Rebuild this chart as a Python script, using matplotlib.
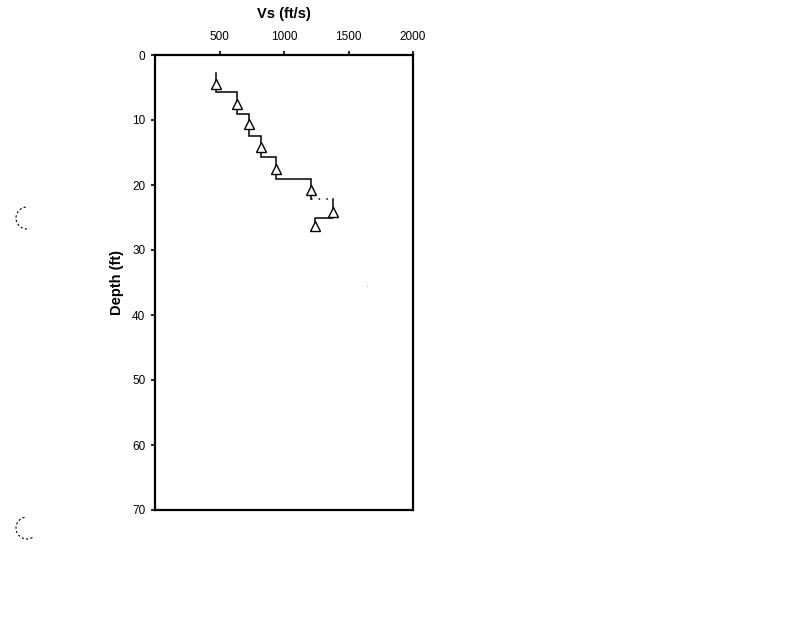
import matplotlib
matplotlib.use("Agg")
import matplotlib.pyplot as plt
from matplotlib.patches import Arc

plt.rcParams['font.family'] = ['Liberation Sans', 'DejaVu Sans']

# Layer profile (step)
layer_top = [2.7, 5.7, 9.1, 12.4, 15.7, 19.0, 22.2, 25.0]
layer_bottom = [5.7, 9.1, 12.4, 15.7, 19.0, 22.2, 25.0, 26.6]
layer_vs = [475, 633, 726, 822, 935, 1207, 1382, 1242]

# Measured points (triangles)
point_depth = [4.4, 7.6, 10.6, 14.2, 17.5, 20.7, 24.1, 26.3]
point_vs = [475, 633, 726, 822, 935, 1207, 1382, 1242]

x_ticks = [500, 1000, 1500, 2000]
y_ticks = [0, 10, 20, 30, 40, 50, 60, 70]

fig = plt.figure(figsize=(8, 6.18), dpi=100)
ax = fig.add_axes([155/800, 1-510/618, 258/800, 455/618])

# build step path
xs, ys = [], []
for t, b, v in zip(layer_top, layer_bottom, layer_vs):
    xs += [v, v]
    ys += [t, b]
# split at the dotted horizontal (between layer index 5 and 6)
dot_i = 5
n1 = 2 * (dot_i + 1)
ax.plot(xs[:n1], ys[:n1], color='black', lw=1.1, solid_joinstyle='miter')
ax.plot(xs[n1-1:n1+1], ys[n1-1:n1+1], color='black', lw=1.1, linestyle=(0, (1, 4)))
ax.plot(xs[n1:], ys[n1:], color='black', lw=1.1)

ax.plot(point_vs, point_depth, linestyle='none', marker='^', markersize=7,
        markerfacecolor='white', markeredgecolor='black', markeredgewidth=1.0)

ax.set_xlim(0, 2000)
ax.set_ylim(70, 0)
ax.xaxis.tick_top()
ax.xaxis.set_label_position('top')
ax.set_xticks(x_ticks)
ax.set_yticks(y_ticks)
ax.tick_params(axis='both', direction='out', length=3, width=1.2, labelsize=8.5)
ax.tick_params(axis='x', pad=6)
ax.tick_params(axis='y', pad=4)
for s in ax.spines.values():
    s.set_linewidth(1.6)
ax.set_xlabel('Vs (ft/s)', fontsize=10.5, fontweight='bold', labelpad=9)
ax.set_ylabel('Depth (ft)', fontsize=10.5, fontweight='bold', labelpad=6)

# scan artifacts (faint arcs / specks)
W, H = 800, 618
for cx, cy, t1, t2 in [(27, 218, 95, 280), (27, 528, 100, 300)]:
    arc = Arc((cx / W, 1 - cy / H), 22 / W, 22 / H, theta1=t1, theta2=t2,
              transform=fig.transFigure, color='black', lw=0.8, linestyle=(0, (2, 2)))
    fig.add_artist(arc)
fig.text(367 / W, 1 - 287 / H, '.  ', fontsize=4, color='black')

fig.savefig('out.png', dpi=100, facecolor='white')
